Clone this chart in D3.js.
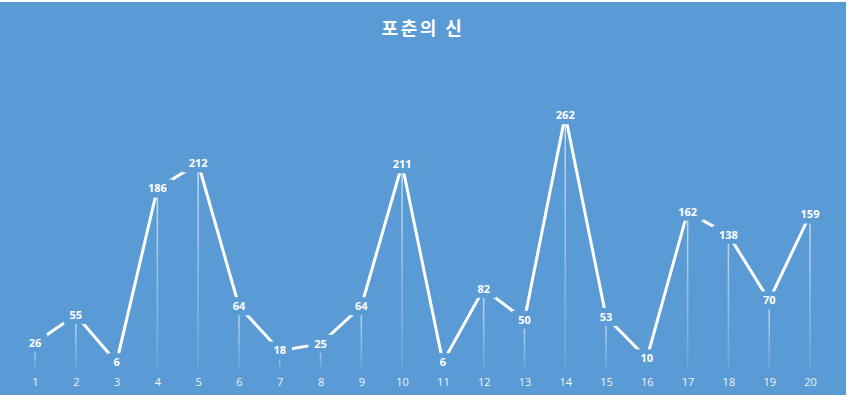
<!DOCTYPE html>
<html>
<head>
<meta charset="utf-8">
<script src="https://cdn.jsdelivr.net/npm/d3@7/dist/d3.min.js"></script>
<style>
  body { margin: 0; background: #fff; }
</style>
</head>
<body>
<div id="chart"></div>
<script>
// Dades
const title = "포춘의 신";
const categories = d3.range(1, 21).map(String);
const values = [26, 55, 6, 186, 212, 64, 18, 25, 64, 211, 6, 82, 50, 262, 53, 10, 162, 138, 70, 159];

const W = 850, H = 400;
const bg = "#5B9BD5";

const svg = d3.select("#chart")
    .append("svg")
        .attr("width", W)
        .attr("height", H);

// Fons
svg.append("rect")
    .attr("x", 0)
    .attr("y", 2)
    .attr("width", 846)
    .attr("height", 393)
    .attr("fill", bg);

// Gradient per les línies verticals
const defs = svg.append("defs");
const grad = defs.append("linearGradient")
    .attr("id", "dropGrad")
    .attr("x1", 0).attr("y1", 0)
    .attr("x2", 0).attr("y2", 1);
grad.append("stop").attr("offset", "0%").attr("stop-color", "#fff").attr("stop-opacity", 0.65);
grad.append("stop").attr("offset", "100%").attr("stop-color", "#fff").attr("stop-opacity", 0.1);

// Escales
const x = d3.scalePoint()
    .domain(categories)
    .range([35, 810]);

const y = d3.scaleLinear()
    .domain([0, 300])
    .range([368, 78.5]);

// Títol
svg.append("text")
    .attr("x", 423)
    .attr("y", 35)
    .attr("text-anchor", "middle")
    .style("font-family", "'Noto Sans CJK KR', 'Noto Sans', sans-serif")
    .style("font-weight", "bold")
    .style("font-size", "18px")
    .style("letter-spacing", "2.5px")
    .style("fill", "#fff")
    .text(title);

// Línies verticals
svg.selectAll(".drop")
    .data(values)
    .enter()
    .append("rect")
        .attr("class", "drop")
        .attr("x", (d, i) => x(categories[i]) - 0.75)
        .attr("y", d => y(d))
        .attr("width", 1.5)
        .attr("height", d => y(0) - y(d))
        .attr("fill", "url(#dropGrad)");

// Línia
const line = d3.line()
    .x((d, i) => x(categories[i]))
    .y(d => y(d));

svg.append("path")
    .datum(values)
    .attr("d", line)
    .attr("fill", "none")
    .attr("stroke", "#fff")
    .attr("stroke-width", 3)
    .attr("stroke-linejoin", "miter");

// Etiquetes de dades (centrades al punt)
const labels = svg.selectAll(".lbl")
    .data(values)
    .enter()
    .append("g")
        .attr("class", "lbl")
        .attr("transform", (d, i) => `translate(${x(categories[i])}, ${y(d)})`);

labels.append("rect")
    .attr("x", d => -(String(d).length * 3.6 + 5))
    .attr("y", -9)
    .attr("width", d => String(d).length * 7.2 + 10)
    .attr("height", 18)
    .attr("fill", bg);

labels.append("text")
    .attr("text-anchor", "middle")
    .attr("dy", "0.35em")
    .style("font-family", "'Open Sans', 'DejaVu Sans', sans-serif")
    .style("font-weight", "bold")
    .style("font-size", "11px")
    .style("fill", "#fff")
    .text(d => d);

// Eix X
const axis = svg.append("g")
    .attr("transform", `translate(0, 382)`)
    .call(d3.axisBottom(x).tickSize(0).tickPadding(0));

axis.select(".domain").remove();
axis.selectAll("text")
    .attr("dy", "0.35em")
    .style("font-family", "'Open Sans', 'DejaVu Sans', sans-serif")
    .style("font-size", "11px")
    .style("fill", "#f2f2f2");
</script>
</body>
</html>
